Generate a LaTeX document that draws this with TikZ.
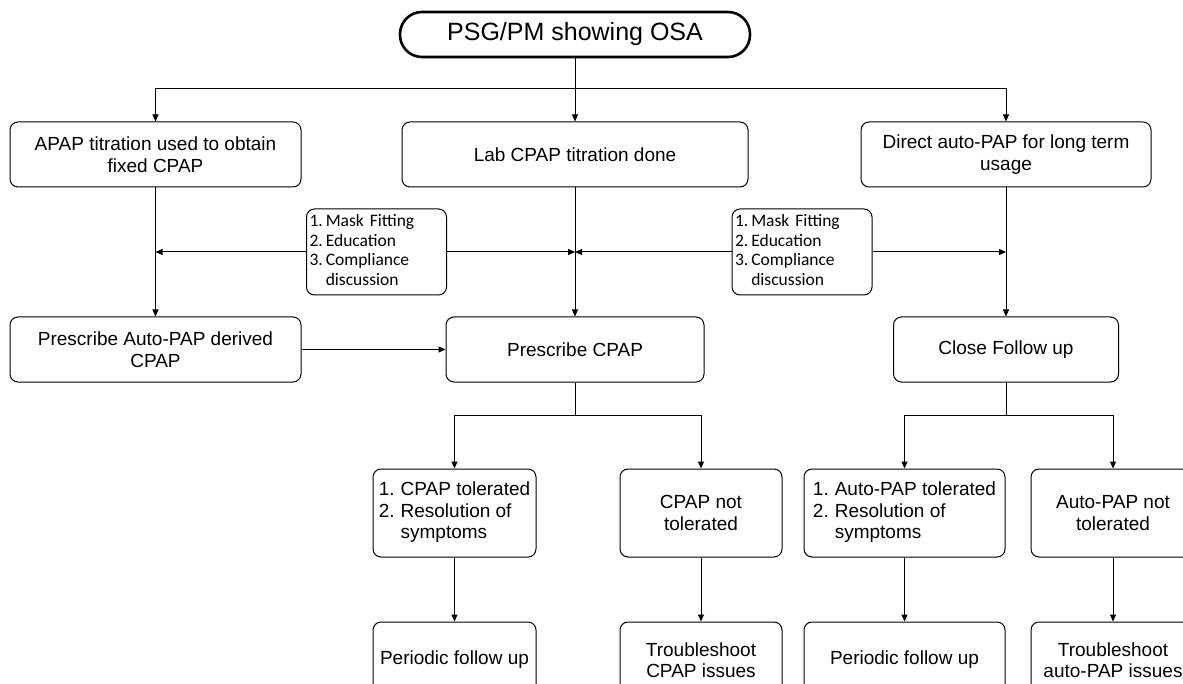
\documentclass[tikz,border=0pt]{standalone}
\usepackage{fontspec}
\setmainfont{Liberation Sans}
\newfontfamily\notefont{Carlito}
\usetikzlibrary{arrows.meta}

\begin{document}
\begin{tikzpicture}[x=1pt,y=-1pt,
  box/.style={draw,line width=1pt,rounded corners=8pt,inner sep=0pt,align=center,font=\fontsize{19}{21.5}\selectfont},
  pill/.style={draw,line width=2.6pt,rounded corners=22pt,inner sep=0pt,font=\fontsize{25}{29}\selectfont},
  note/.style={draw,line width=1pt,rounded corners=8pt,inner xsep=3pt,inner ysep=0pt,text width=134pt,align=left,minimum height=86pt,font=\notefont\fontsize{17.5}{19.5}\selectfont},
  arr/.style={line width=1pt,-{Triangle[length=7pt,width=6pt]}},
  ln/.style={line width=1pt}]

\useasboundingbox (0,0) rectangle (1183,684);
\clip (0,0) rectangle (1183,684);

\node[pill,minimum width=350pt,minimum height=45pt] (osa) at (575,34.5) {PSG/PM showing OSA};

\node[box,minimum width=291pt,minimum height=65pt] (apap) at (155.5,154.5) {APAP titration used to obtain\\fixed CPAP};
\node[box,minimum width=346pt,minimum height=65pt] (lab) at (575,154.5) {Lab CPAP titration done};
\node[box,minimum width=290pt,minimum height=65pt] (direct) at (1006,154.5) {Direct auto-PAP for long term\\usage};

\node[note] (maskL) at (376.5,252) {\begin{tabular}{@{}l@{\hspace{3pt}}l@{}}1.&Mask Fitting\\2.&Education\\3.&Compliance\\&discussion\end{tabular}};
\node[note] (maskR) at (802,252) {\begin{tabular}{@{}l@{\hspace{3pt}}l@{}}1.&Mask Fitting\\2.&Education\\3.&Compliance\\&discussion\end{tabular}};

\node[box,minimum width=291pt,minimum height=65pt] (rxauto) at (155.5,349.5) {Prescribe Auto-PAP derived\\CPAP};
\node[box,minimum width=258pt,minimum height=65pt] (rxcpap) at (575,349.5) {Prescribe CPAP};
\node[box,minimum width=225pt,minimum height=65pt] (close) at (1006,349.5) {Close Follow up};

\node[box,minimum width=163pt,minimum height=88pt] (ctol) at (454.5,513) {\begin{tabular}{@{}l@{\hspace{6pt}}l@{}}1.&CPAP tolerated\\2.&Resolution of\\&symptoms\end{tabular}};
\node[box,minimum width=162pt,minimum height=88pt] (cnot) at (701,513) {CPAP not\\tolerated};
\node[box,minimum width=201pt,minimum height=88pt] (atol) at (904.5,513) {\begin{tabular}{@{}l@{\hspace{6pt}}l@{}}1.&Auto-PAP tolerated\\2.&Resolution of\\&symptoms\end{tabular}};
\node[box,minimum width=164pt,minimum height=88pt] (anot) at (1113,513) {Auto-PAP not\\tolerated};

\node[box,minimum width=163pt,minimum height=76pt] (cfup) at (454.5,660) {Periodic follow up};
\node[box,minimum width=162pt,minimum height=76pt] (ctrb) at (701,660) {Troubleshoot\\CPAP issues};
\node[box,minimum width=201pt,minimum height=76pt] (afup) at (904.5,660) {Periodic follow up};
\node[box,minimum width=164pt,minimum height=76pt] (atrb) at (1113,660) {Troubleshoot\\auto-PAP issues};

\coordinate (top) at (575,89);
\coordinate (midC) at (575,415);
\coordinate (midA) at (1006,415);

\draw[ln] (osa) -- (top);
\draw[arr] (top) -| (apap.north);
\draw[arr] (top) -- (lab);
\draw[arr] (top) -| (direct.north);

\draw[arr] (apap) -- (rxauto);
\draw[arr] (lab) -- (rxcpap);
\draw[arr] (direct) -- (close);

\draw[arr] (maskL.west) -- (maskL.west -| apap.south);
\draw[arr] (maskL.east) -- (maskL.east -| lab.south);
\draw[arr] (maskR.west) -- (maskR.west -| lab.south);
\draw[arr] (maskR.east) -- (maskR.east -| direct.south);

\draw[arr] (rxauto) -- (rxcpap);

\draw[ln] (rxcpap) -- (midC);
\draw[arr] (midC) -| (ctol.north);
\draw[arr] (midC) -| (cnot.north);
\draw[ln] (close) -- (midA);
\draw[arr] (midA) -| (atol.north);
\draw[arr] (midA) -| (anot.north);

\draw[arr] (ctol) -- (cfup);
\draw[arr] (cnot) -- (ctrb);
\draw[arr] (atol) -- (afup);
\draw[arr] (anot) -- (atrb);

\end{tikzpicture}
\end{document}
